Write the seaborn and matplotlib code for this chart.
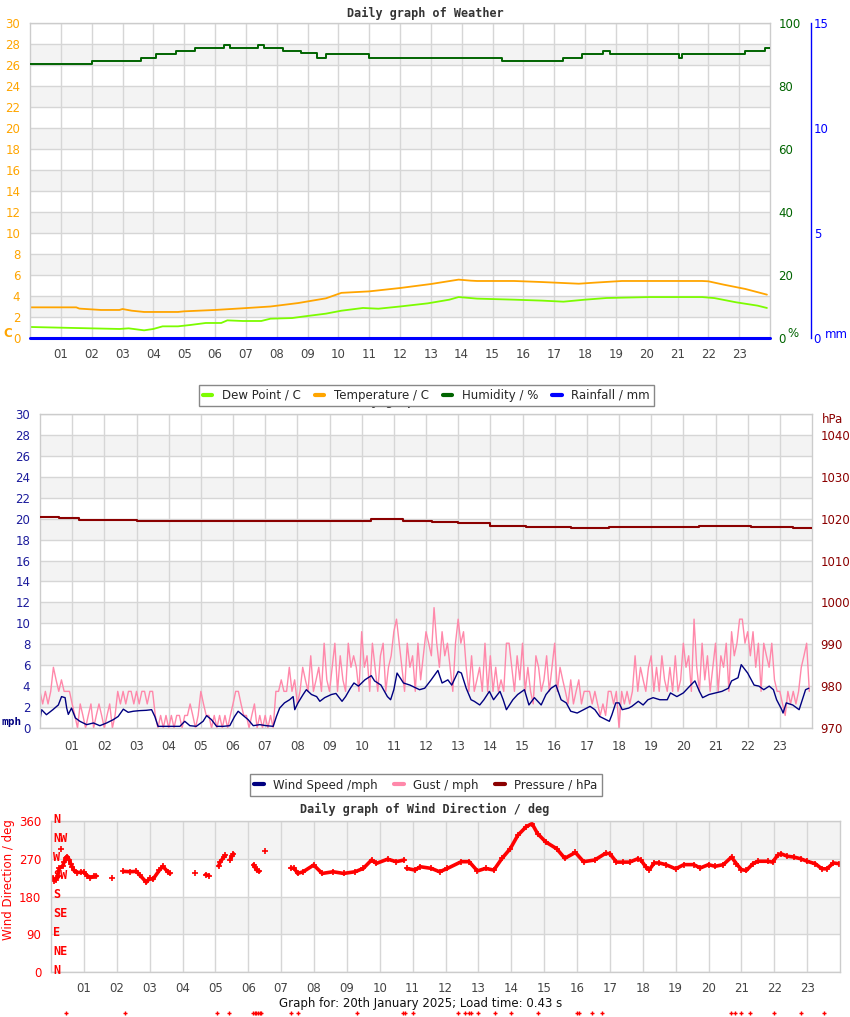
import numpy as np
import pandas as pd
import matplotlib
matplotlib.use("Agg")
import matplotlib.pyplot as plt
import seaborn as sns
from matplotlib.lines import Line2D

# ---------------- data ----------------
hour_labels = ["%02d" % h for h in range(1, 24)]

temp_hours = [0, 1.5, 1.6, 2.3, 2.9, 3.0, 3.3, 3.7, 4.8, 5.0, 6.0, 6.9, 7.8, 8.7, 9.6, 10.1, 11.0,
              12.0, 13.0, 13.9, 14.3, 14.5, 15.7, 16.6, 17.8, 18.3, 19.2, 21.8, 22.0, 22.5, 23.2, 23.9]
temp_vals = [2.92, 2.92, 2.8, 2.67, 2.67, 2.76, 2.6, 2.48, 2.48, 2.54, 2.67, 2.83, 3.0, 3.33, 3.78, 4.3, 4.44,
             4.76, 5.14, 5.56, 5.46, 5.43, 5.43, 5.33, 5.17, 5.27, 5.43, 5.43, 5.4, 5.08, 4.67, 4.13]

dew_hours = [0, 1.5, 2.9, 3.2, 3.7, 4.0, 4.3, 4.8, 5.2, 5.7, 6.2, 6.4, 6.9, 7.5, 7.8, 8.5, 8.9, 9.6, 10.1, 10.8,
             11.3, 12.0, 12.9, 13.6, 13.9, 14.5, 15.7, 16.6, 17.3, 18.0, 18.7, 20.1, 21.8, 22.2, 22.9, 23.6, 23.9]
dew_vals = [1.05, 0.95, 0.86, 0.92, 0.73, 0.86, 1.11, 1.11, 1.24, 1.43, 1.43, 1.68, 1.62, 1.62, 1.84, 1.9, 2.06,
            2.32, 2.6, 2.86, 2.79, 3.0, 3.3, 3.65, 3.9, 3.75, 3.65, 3.56, 3.46, 3.65, 3.81, 3.9, 3.9, 3.8, 3.4,
            3.08, 2.86]

hum_hours = [0, 2.0, 3.6, 4.1, 4.75, 5.35, 6.3, 6.5, 7.4, 7.6, 8.2, 8.8, 9.3, 9.6, 11.0, 15.3, 17.3, 17.9,
             18.6, 18.8, 21.05, 21.15, 23.2, 23.85, 24.0]
hum_vals = [86.9, 87.8, 88.8, 90.0, 91.0, 92.0, 92.9, 92.0, 92.9, 92.0, 91.0, 90.4, 88.8, 90.0, 88.8, 87.8,
            88.8, 90.0, 91.0, 90.0, 88.8, 90.0, 91.0, 92.0, 92.0]

rain_hours = [0, 24]
rain_vals = [0, 0]

wind_hours = [0.0, 0.05, 0.2, 0.4, 0.57, 0.67, 0.78, 0.83, 0.88, 0.98, 1.1, 1.24, 1.45, 1.66, 1.86, 2.07, 2.28,
              2.43, 2.59, 2.74, 2.9, 3.1, 3.3, 3.47, 3.57, 3.67, 3.93, 4.35, 4.5, 4.66, 4.86, 5.07, 5.18, 5.33,
              5.49, 5.7, 5.9, 6.05, 6.16, 6.32, 6.47, 6.63, 6.83, 7.04, 7.25, 7.35, 7.45, 7.6, 7.76, 7.87, 7.92,
              8.02, 8.18, 8.28, 8.44, 8.6, 8.7, 8.85, 9.06, 9.2, 9.39, 9.5, 9.65, 9.76, 9.9, 10.1, 10.3, 10.4,
              10.6, 10.8, 10.9, 11.0, 11.1, 11.3, 11.5, 11.7, 11.8, 11.96, 12.16, 12.37, 12.5, 12.68, 12.8, 13.0,
              13.1, 13.25, 13.4, 13.5, 13.67, 13.8, 13.97, 14.1, 14.3, 14.4, 14.5, 14.7, 14.85, 15.06, 15.2,
              15.37, 15.58, 15.73, 15.89, 16.04, 16.2, 16.36, 16.5, 16.7, 16.9, 17.1, 17.25, 17.4, 17.6, 17.7,
              17.78, 17.9, 18.0, 18.1, 18.3, 18.4, 18.6, 18.75, 18.9, 19.06, 19.27, 19.5, 19.6, 19.8, 20.0, 20.2,
              20.36, 20.5, 20.6, 20.8, 21.0, 21.2, 21.4, 21.5, 21.7, 21.8, 22.0, 22.2, 22.35, 22.5, 22.67, 22.8,
              22.9, 23.06, 23.1, 23.2, 23.4, 23.6, 23.7, 23.8, 23.9]
wind_vals = [0.8, 1.75, 1.27, 1.75, 2.2, 3.0, 2.9, 1.9, 1.3, 1.9, 0.96, 0.64, 0.32, 0.48, 0.22, 0.48, 0.8,
             1.1, 1.8, 1.5, 1.6, 1.66, 1.69, 1.75, 1.1, 0.16, 0.16, 0.16, 0.64, 0.22, 0.16, 0.64, 1.18, 0.8,
             0.16, 0.16, 0.22, 1.1, 1.6, 1.18, 0.8, 0.22, 0.32, 0.22, 0.16, 1.1, 1.9, 2.4, 2.7, 3.0, 1.75,
             2.4, 3.2, 3.66, 3.2, 3.0, 2.55, 2.9, 3.2, 3.3, 2.55, 3.0, 3.8, 4.3, 4.0, 4.6, 5.0, 4.5,
             4.1, 3.0, 2.7, 3.66, 5.25, 4.3, 4.1, 3.8, 3.66, 3.8, 4.6, 5.5, 4.3, 4.6, 4.1, 5.4,
             5.25, 3.8, 2.7, 2.55, 2.2, 2.7, 3.5, 2.7, 3.5, 2.7, 1.75, 2.7, 3.2, 3.66, 2.2,
             2.9, 2.2, 3.2, 3.8, 4.1, 2.7, 2.4, 1.6, 1.43, 1.75, 2.07, 1.75, 1.1, 0.8, 0.64,
             1.27, 2.4, 2.4, 1.75, 1.9, 2.07, 2.55, 2.2, 2.7, 2.9, 2.7, 2.7, 3.35, 3.0, 3.35, 4.0,
             4.5, 3.5, 2.9, 3.2, 3.35, 3.5, 3.8, 4.5, 4.8, 6.05, 5.25, 4.1, 4.0, 3.66, 4.0, 3.66,
             2.7, 1.75, 1.43, 2.4, 2.2, 1.75, 2.7, 3.66, 3.8]

# gust readings, one every 5 minutes (12 per hour)
gust_vals = [
    3.5, 2.3, 3.5, 2.3, 3.5, 5.8, 4.6, 3.5, 4.6, 3.5, 3.5, 3.5,
    2.3, 1.2, 0, 2.3, 1.2, 0, 1.2, 2.3, 0, 1.2, 2.3, 1.2,
    0, 1.2, 2.3, 0, 1.2, 3.5, 2.3, 3.5, 2.3, 3.5, 3.5, 2.3,
    3.5, 2.3, 3.5, 3.5, 2.3, 3.5, 3.5, 1.2, 0, 1.2, 0, 1.2,
    0, 1.2, 0, 1.2, 1.2, 0, 1.2, 1.2, 2.3, 1.2, 0, 1.2,
    3.5, 2.3, 1.2, 1.2, 0, 1.2, 0, 1.2, 0, 1.2, 0, 1.2,
    2.3, 3.5, 3.5, 2.3, 1.2, 1.2, 0, 1.2, 2.3, 0, 1.2, 0,
    1.2, 0, 1.2, 0, 3.5, 3.5, 4.6, 3.5, 3.5, 5.8, 3.5, 4.6,
    2.3, 3.5, 5.8, 4.6, 3.5, 6.9, 3.5, 4.6, 5.8, 3.5, 8.1, 4.6,
    3.5, 5.8, 8.1, 3.5, 6.9, 4.6, 3.5, 8.1, 5.8, 6.9, 5.8, 3.5,
    9.2, 5.8, 6.9, 3.5, 8.1, 5.8, 3.5, 6.9, 8.1, 3.5, 5.8, 6.9,
    9.2, 10.4, 8.1, 5.8, 3.5, 8.1, 5.8, 6.9, 3.5, 8.1, 4.6, 6.9,
    9.2, 8.1, 6.9, 11.5, 8.1, 5.8, 9.2, 6.9, 8.1, 5.8, 3.5, 8.1,
    10.4, 8.1, 9.2, 5.8, 3.5, 6.9, 3.5, 4.6, 5.8, 3.5, 8.1, 3.5,
    6.9, 3.5, 5.8, 3.5, 4.6, 3.5, 8.1, 8.1, 5.8, 3.5, 6.9, 4.6,
    8.1, 3.5, 5.8, 3.5, 2.3, 6.9, 5.8, 3.5, 4.6, 6.9, 3.5, 5.8,
    8.1, 3.5, 5.8, 4.6, 3.5, 2.3, 4.6, 2.3, 3.5, 4.6, 2.3, 3.5,
    3.5, 3.5, 2.3, 3.5, 2.3, 1.2, 2.3, 1.2, 3.5, 3.5, 2.3, 3.5,
    0, 3.5, 2.3, 3.5, 2.3, 3.5, 6.9, 3.5, 5.8, 4.6, 3.5, 5.8,
    6.9, 3.5, 5.8, 3.5, 6.9, 4.6, 3.5, 5.8, 3.5, 6.9, 3.5, 4.6,
    8.1, 5.8, 6.9, 3.5, 10.4, 5.8, 3.5, 8.1, 4.6, 6.9, 3.5, 5.8,
    8.1, 3.5, 6.9, 5.8, 8.1, 3.5, 9.2, 6.9, 8.1, 10.4, 10.4, 8.1,
    9.2, 6.9, 9.2, 5.8, 8.1, 3.5, 8.1, 6.9, 5.8, 8.1, 4.6, 3.5,
    3.5, 2.3, 1.2, 3.5, 2.3, 3.5, 2.3, 3.5, 5.8, 6.9, 8.1, 3.5,
]
gust_minutes = np.arange(0, 1440, 5)

pres_hours = [0, 0.6, 1.2, 3.0, 10.3, 11.3, 12.2, 13.0, 14.0, 15.1, 16.5, 17.7, 20.5, 22.1, 23.4, 24.0]
pres_vals = [1020.5, 1020.2, 1019.8, 1019.5, 1020.0, 1019.5, 1019.2, 1018.9, 1018.3, 1017.9, 1017.7,
             1018.1, 1018.3, 1018.1, 1017.7, 1017.7]

# wind direction readings, grouped into unbroken runs
wd_runs = [
    ([0.05, 0.1, 0.15, 0.2, 0.25, 0.35, 0.4, 0.45, 0.5, 0.55, 0.6, 0.65, 0.7, 0.8, 0.9, 1.0, 1.1, 1.2, 1.3, 1.38],
     [225, 218, 220, 228, 247, 252, 262, 272, 275, 268, 258, 250, 242, 237, 238, 238, 230, 225, 228, 229]),
    ([0.3], [294]),
    ([1.86], [225]),
    ([2.2, 2.4, 2.6, 2.7, 2.9, 3.0, 3.1, 3.3, 3.4, 3.55, 3.62],
     [240, 239, 240, 231, 214, 223, 221, 243, 252, 239, 235]),
    ([4.39], [236]),
    ([4.7, 4.8], [232, 230]),
    ([5.1, 5.15, 5.25, 5.3], [253, 263, 273, 278]),
    ([5.45, 5.5, 5.55], [268, 276, 282]),
    ([6.16, 6.2, 6.26, 6.34], [256, 250, 243, 240]),
    ([6.5], [289]),
    ([7.3, 7.4, 7.5, 7.67, 7.99, 8.25, 8.58, 8.9, 9.25, 9.5, 9.75, 9.9, 10.24, 10.5, 10.74],
     [248, 247, 235, 239, 255, 235, 239, 235, 239, 247, 267, 259, 269, 263, 267]),
    ([10.82, 11.07, 11.23, 11.57, 11.82, 12.06, 12.48, 12.72, 12.97, 13.22, 13.47, 13.72, 13.97, 14.2,
      14.45, 14.63, 14.8, 15.05, 15.38, 15.63, 15.95, 16.2, 16.54, 16.87, 17.0, 17.2, 17.4, 17.6, 17.85,
      17.95, 18.1, 18.2, 18.35, 18.5, 18.7, 19.0, 19.25, 19.55, 19.75, 20.0, 20.2, 20.45, 20.7, 20.85,
      21.0, 21.15, 21.35, 21.5, 21.8, 21.95, 22.1, 22.2, 22.4, 22.6, 22.8, 23.0, 23.25, 23.45, 23.6,
      23.8, 23.98],
     [247, 243, 251, 247, 239, 247, 263, 263, 241, 247, 243, 271, 294, 326,
      346, 354, 330, 310, 294, 271, 285, 263, 267, 283, 282, 262, 262, 262, 270,
      266, 250, 244, 260, 260, 256, 246, 256, 256, 248, 256, 252, 256, 274, 258,
      244, 242, 258, 264, 264, 262, 278, 282, 276, 274, 270, 264, 258, 246, 246,
      260, 258]),
]

calm_hours = [0.45, 2.25, 5.05, 5.4, 6.15, 6.2, 6.25, 6.3, 6.35, 6.4, 7.3, 7.5, 9.3, 10.72, 10.78, 11.0,
              12.37, 12.6, 12.7, 12.78, 13.0, 13.5, 14.0, 14.8, 16.0, 16.05, 16.47, 16.75, 20.67, 20.8, 21.0,
              21.25, 22.0, 22.8, 23.5]
calm_level = -98

compass = ["N", "NE", "E", "SE", "S", "SW", "W", "NW", "N"]
compass_deg = [0, 45, 90, 135, 180, 225, 270, 315, 360]

# ---------------- style ----------------
sns.set_theme(style="white")
plt.rcParams["font.family"] = ["DejaVu Sans"]
plt.rcParams["axes.linewidth"] = 1.0

W, H = 850, 1017
fig = plt.figure(figsize=(W / 100, H / 100), dpi=100)
fig.patch.set_facecolor("white")

GRID = "#d6d6d6"
BAND = "#f3f3f3"
FS = 8.5
MONO = "DejaVu Sans Mono"


def ax_px(l, t, r, b):
    return fig.add_axes([l / W, 1 - b / H, (r - l) / W, (b - t) / H])


def base(ax, ymax, ystep, bands, xpad):
    ax.set_xlim(0, 24)
    ax.set_ylim(0, ymax)
    for lo, hi in bands:
        ax.axhspan(lo, hi, color=BAND, zorder=0, lw=0)
    ax.set_xticks(range(1, 24))
    ax.set_xticklabels(hour_labels)
    ax.set_yticks(np.arange(0, ymax + 0.1, ystep))
    ax.grid(True, color=GRID, lw=1)
    ax.set_axisbelow(True)
    ax.tick_params(axis="x", length=0, pad=xpad, labelsize=FS, labelcolor="#444444")
    ax.tick_params(axis="y", length=0, pad=7, labelsize=FS)
    for s in ax.spines.values():
        s.set_color("#cccccc")
    ax.set_facecolor("white")


# ---------------- top: weather ----------------
ax1 = ax_px(30, 23, 770, 338)
base(ax1, 30, 2, [(lo, lo + 2) for lo in range(2, 30, 4)], 7)
ax1.tick_params(axis="y", labelcolor="#ffa500")
sns.lineplot(x=temp_hours, y=temp_vals, ax=ax1, color="#ffa500", lw=1.3)
sns.lineplot(x=dew_hours, y=dew_vals, ax=ax1, color="#7cfc00", lw=1.3)

axh = ax1.twinx()
axh.set_ylim(0, 100)
axh.set_yticks(range(0, 101, 20))
axh.tick_params(axis="y", length=0, pad=6, labelsize=FS, labelcolor="#006400")
axh.grid(False)
for s in axh.spines.values():
    s.set_visible(False)
sns.lineplot(x=hum_hours, y=hum_vals, ax=axh, color="#006400", lw=1.4, drawstyle="steps-post")

axr = ax1.twinx()
axr.set_ylim(0, 15)
axr.set_yticks([0, 5, 10, 15])
axr.spines["right"].set_position(("outward", 29.5))
for k, s in axr.spines.items():
    s.set_visible(k == "right")
axr.spines["right"].set_color("#0000ff")
axr.tick_params(axis="y", length=0, pad=2, labelsize=FS, labelcolor="#0000ff")
axr.grid(False)
sns.lineplot(x=rain_hours, y=rain_vals, ax=axr, color="#0000ff", lw=2.2, clip_on=False)

fig.text(3 / W, 1 - 333 / H, "C", color="#ffa500", fontsize=8.5, weight="bold", ha="left", va="center")
fig.text(787 / W, 1 - 333 / H, "%", color="#006400", fontsize=FS, ha="left", va="center")
fig.text(825 / W, 1 - 334 / H, "mm", color="#0000ff", fontsize=FS, ha="left", va="center")
fig.text(425 / W, 1 - 13 / H, "Daily graph of Weather", ha="center", va="center",
         family=MONO, weight="bold", fontsize=FS, color="#333333")

leg1 = [Line2D([], [], color=c, lw=3) for c in ["#7cfc00", "#ffa500", "#006400", "#0000ff"]]
fig.text(425 / W, 1 - 401 / H, "Daily graph of Pressure", ha="center", va="center",
         family=MONO, weight="bold", fontsize=FS, color="#333333", zorder=1)
L1 = fig.legend(leg1, ["Dew Point / C", "Temperature / C", "Humidity / %", "Rainfall / mm"],
                loc="center", bbox_to_anchor=(426.5 / W, 1 - 395.5 / H), ncol=4, fontsize=FS,
                frameon=True, fancybox=False, edgecolor="#888888", framealpha=1,
                handlelength=0.8, handletextpad=0.8, columnspacing=1.2, borderpad=0.35)
L1.set_zorder(10)

# ---------------- middle: wind ----------------
ax2 = ax_px(40, 414, 812, 728)
base(ax2, 30, 2, [(lo, lo + 2) for lo in range(2, 30, 4)], 9)
ax2.tick_params(axis="y", labelcolor="#1c1c9c")
gust_df = pd.DataFrame({"hour": gust_minutes / 60.0, "gust": gust_vals})
sns.lineplot(data=gust_df, x="hour", y="gust", ax=ax2, color="#ff88aa", lw=1.0)
sns.lineplot(x=wind_hours, y=wind_vals, ax=ax2, color="#000080", lw=1.0)

axp = ax2.twinx()
axp.set_ylim(970, 1045)
axp.set_yticks(range(970, 1041, 10))
axp.tick_params(axis="y", length=0, pad=6, labelsize=FS, labelcolor="#8b0000")
axp.grid(False)
for s in axp.spines.values():
    s.set_visible(False)
sns.lineplot(x=pres_hours, y=pres_vals, ax=axp, color="#8b0000", lw=1.5, drawstyle="steps-post")

fig.text(822 / W, 1 - 419 / H, "hPa", color="#8b0000", fontsize=FS, ha="left", va="center")
fig.text(2 / W, 1 - 722 / H, "mph", color="#000080", fontsize=8, family=MONO, weight="bold",
         ha="left", va="center")

leg2 = [Line2D([], [], color=c, lw=3) for c in ["#000080", "#ff88aa", "#8b0000"]]
L2 = fig.legend(leg2, ["Wind Speed /mph", "Gust / mph", "Pressure / hPa"],
                loc="center", bbox_to_anchor=(426 / W, 1 - 785 / H), ncol=3, fontsize=FS,
                frameon=True, fancybox=False, edgecolor="#888888", framealpha=1,
                handlelength=0.8, handletextpad=0.8, columnspacing=1.4, borderpad=0.35)

# ---------------- bottom: wind direction ----------------
ax3 = ax_px(51, 821, 840, 972)
base(ax3, 360, 90, [(90, 180), (270, 360)], 7)
ax3.tick_params(axis="y", labelcolor="#ff0000")
for hrs, degs in wd_runs:
    if len(hrs) > 1:
        sns.lineplot(x=hrs, y=degs, ax=ax3, color="#ff0000", lw=2.6, sort=False)
    sns.scatterplot(x=hrs, y=degs, ax=ax3, color="#ff0000", marker="+", s=22, linewidth=1.2)
sns.scatterplot(x=calm_hours, y=[calm_level] * len(calm_hours), ax=ax3, color="#ff0000", marker="+",
                s=10, linewidth=1.0, clip_on=False)
for lab, d in zip(compass, compass_deg):
    ax3.text(0.003, d + 4, lab, transform=ax3.get_yaxis_transform(), color="#ff0000",
             family=MONO, weight="bold", fontsize=FS, ha="left", va="center")
fig.text(9 / W, 1 - 880 / H, "Wind Direction / deg", rotation=90, color="#ff0000", fontsize=FS,
         ha="center", va="center")
fig.text(425 / W, 1 - 809 / H, "Daily graph of Wind Direction / deg", ha="center", va="center",
         family=MONO, weight="bold", fontsize=FS, color="#333333")
fig.text(421 / W, 1 - 1004 / H, "Graph for: 20th January 2025; Load time: 0.43 s", ha="center",
         va="center", fontsize=FS, color="#111111")

for a in (ax1, axh, axr, ax2, axp, ax3):
    a.set_xlabel("")
    a.set_ylabel("")

fig.savefig("out.png", dpi=100, facecolor="white")
